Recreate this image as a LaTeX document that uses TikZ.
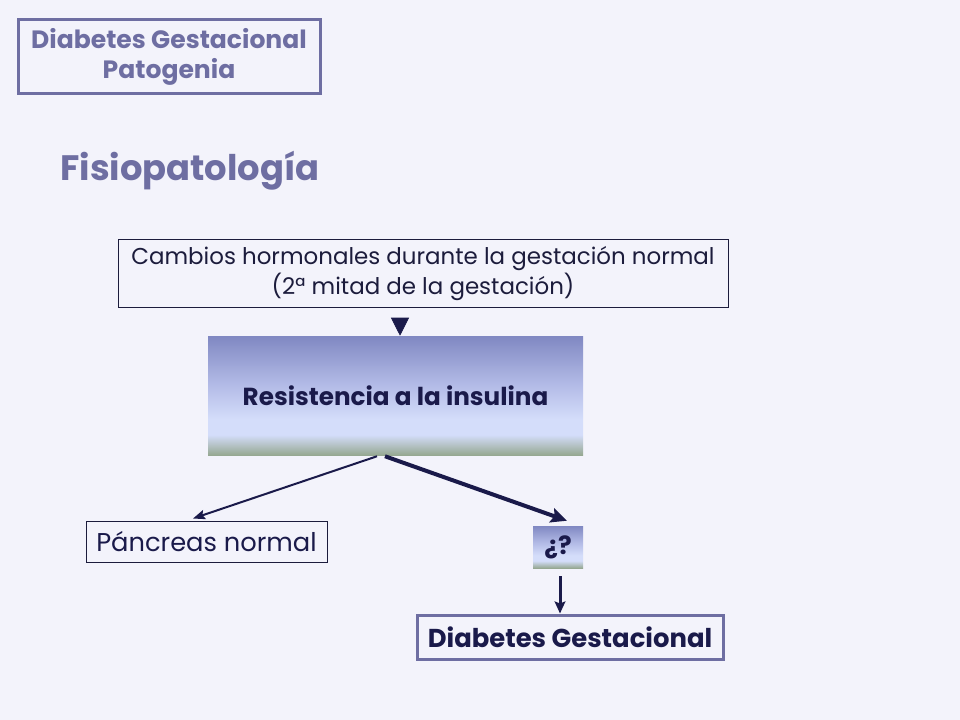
\documentclass[tikz,border=0pt]{standalone}
\usepackage{fontspec}
\setmainfont{Poppins}
\usetikzlibrary{arrows.meta,calc}
\definecolor{bg}{HTML}{F3F3FB}
\definecolor{slate}{HTML}{6E6EA2}
\definecolor{navy}{HTML}{1A1A4A}
\definecolor{ink}{HTML}{1C1C3C}
\definecolor{gB}{HTML}{96A892}
\definecolor{lb}{HTML}{D4DDFA}
\definecolor{mb}{HTML}{B2BAE6}
\definecolor{tb}{HTML}{8088C2}
\pgfdeclareverticalshading{resshade}{100bp}{color(0bp)=(gB); color(25bp)=(gB); color(33.5bp)=(lb); color(40bp)=(lb); color(55bp)=(mb); color(75bp)=(tb); color(100bp)=(tb)}
\tikzset{
  plainbox/.style={draw=ink, line width=0.75pt, fill=bg, inner sep=0pt, align=center, text=ink},
  slatebox/.style={draw=slate, line width=2.25pt, inner sep=0pt, align=center},
  gradbox/.style={shading=resshade, inner sep=0pt, align=center, text=navy},
  conn/.style={draw=navy, line width=1.5pt, -{Stealth[length=9pt,width=7pt,inset=1.5pt]}},
  thickconn/.style={draw=navy, line width=3pt, -{Stealth[length=12pt,width=11pt,inset=2pt]}},
}
\begin{document}
\begin{tikzpicture}[x=0.75pt,y=-0.75pt]
\fill[bg] (0,0) rectangle (960,720);
\useasboundingbox (0,0) rectangle (960,720);
% title
\node[slatebox, minimum width=226.5pt, minimum height=55.5pt, text=slate, font=\bfseries\fontsize{18.8}{22.5}\selectfont] (title) at (169,57) {Diabetes Gestacional\\Patogenia};
\node[anchor=base west, inner sep=0pt, text=slate, font=\bfseries\fontsize{26.5}{32}\selectfont] (fisio) at (60,181) {Fisiopatología};
% boxes
\node[plainbox, minimum width=457.5pt, minimum height=51pt, font=\fontsize{17.2}{22.5}\selectfont] (box1) at (423,274) {Cambios hormonales durante la gestación normal\\(2ª mitad de la gestación)};
\node[gradbox, minimum width=281.25pt, minimum height=89.25pt, font=\bfseries\fontsize{18.5}{22}\selectfont] (res) at (395.5,395.5) {Resistencia a la insulina};
\node[plainbox, minimum width=180.75pt, minimum height=30.75pt, font=\fontsize{19.3}{22}\selectfont, text=navy] (panc) at (206.5,541.5) {Páncreas normal};
\node[gradbox, minimum width=37.5pt, minimum height=31.5pt, font=\bfseries\fontsize{19}{22}\selectfont] (q) at (558,547) {¿?};
\node[slatebox, fill=bg, minimum width=229.5pt, minimum height=33pt, text=navy, font=\bfseries\fontsize{19.4}{22}\selectfont] (diab) at (570,637) {Diabetes Gestacional};
% connectors
\coordinate (t1) at (400,318);
\draw[navy, line width=0.5pt, -{Triangle[length=13.5pt,width=13.5pt]}] (t1) -- (t1 |- res.north);
\coordinate (s1) at ($(res.south)+(-18.5,1)$);
\coordinate (e1) at ($(panc.north)+(-13.5,-2)$);
\draw[conn] (s1) -- (e1);
\coordinate (s2) at ($(res.south)+(-10.5,1)$);
\coordinate (e2) at ($(q.north)+(9,-5)$);
\draw[thickconn] (s2) -- (e2);
\coordinate (s3) at ($(q.south)+(2,8)$);
\draw[draw=navy, line width=2.25pt, -{Stealth[length=9pt,width=8pt,inset=1.5pt]}] (s3) -- (s3 |- diab.north);
\end{tikzpicture}
\end{document}
